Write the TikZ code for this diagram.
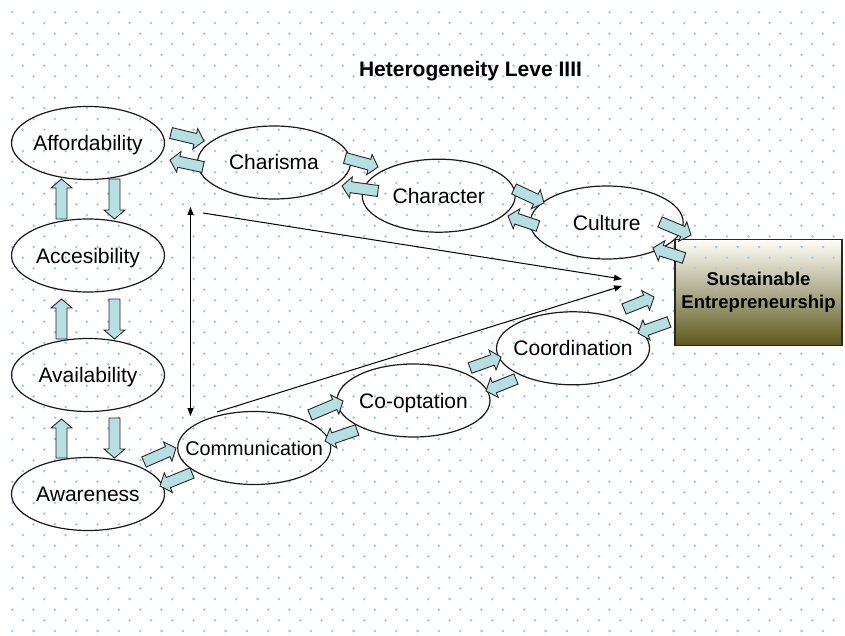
\documentclass[tikz,border=0pt]{standalone}
\usepackage{fontspec}
\setmainfont{Liberation Sans}
\usetikzlibrary{shapes.geometric,calc,arrows.meta}

\definecolor{dotblue}{RGB}{165,195,232}
\definecolor{arrowfill}{RGB}{182,223,228}
\definecolor{boxtop}{RGB}{255,255,250}
\definecolor{boxmid}{RGB}{180,174,128}
\definecolor{boxbot}{RGB}{92,88,28}

% dimensions of the fat double-outline arrows
\newcommand\shafthalf{5.5pt}
\newcommand\headhalf{10.5pt}
\newcommand\headlen{9pt}

% fat arrow from coordinate #1 (tail centre) to coordinate #2 (tip)
\newcommand\blockarrow[2]{%
  \draw[barrow] let \p1=(#1), \p2=(#2),
    \n1={atan2(\y2-\y1,\x2-\x1)}, \n2={veclen(\x2-\x1,\y2-\y1)} in
    (\p1) ++(\n1+90:\shafthalf) -- ++(\n1:\n2-\headlen)
    -- ++(\n1+90:\headhalf-\shafthalf) -- (\p2)
    -- ($(\p2)+(\n1+180:\headlen)+(\n1-90:\headhalf)$)
    -- ++(\n1+90:\headhalf-\shafthalf) -- ++(\n1+180:\n2-\headlen) -- cycle;}

% label of zero width, so every ellipse keeps the same size
\newcommand\ellabel[1]{\makebox[0pt]{#1}}

\begin{document}
\begin{tikzpicture}[x=1pt,y=-1pt,
  ellnode/.style={draw=black!90, ellipse, line width=1.2pt, minimum width=153pt,
    minimum height=73pt, inner sep=0pt, font=\fontsize{21}{25}\selectfont,
    text height=15pt, text depth=0pt},
  barrow/.style={draw=black!85, line width=0.9pt, fill=arrowfill, line join=miter},
  thinline/.style={line width=1pt, draw=black, >={Triangle[length=8pt,width=6pt]}},
]
\useasboundingbox (0,0) rectangle (845,636);
\fill[white] (0,0) rectangle (845,636);

% staggered dot grid
\foreach \j in {0,...,58}{
  \pgfmathsetmacro\rowy{12.3+10.667*\j}
  \pgfmathsetmacro\rowx{12.3+10.667*mod(\j,2)}
  \foreach \i in {0,...,38}
    \fill[dotblue] (\rowx+21.333*\i,\rowy) circle (1.4pt);
}

% target box
\node[draw=black!85, line width=1.2pt, minimum width=167pt, minimum height=106pt,
  inner sep=0pt, top color=boxtop, middle color=boxmid, bottom color=boxbot]
  (se) at (758.5,292.3) {};
\begin{scope}
  \clip ($(se.south west)+(2,-2)$) rectangle ($(se.north east)+(-2,2)$);
  \foreach \j in {22,...,27}{
    \pgfmathsetmacro\rowy{12.3+10.667*\j}
    \pgfmathsetmacro\rowx{12.3+10.667*mod(\j,2)}
    \pgfmathsetmacro\dotop{max(0,min(1,(300-\rowy)/55))}
    \foreach \i in {30,...,38}
      \fill[dotblue, opacity=\dotop] (\rowx+21.333*\i,\rowy) circle (1.4pt);
  }
\end{scope}
\node[font=\bfseries\fontsize{18.5}{23.3}\selectfont, align=center] (setext) at (se)
  {Sustainable\\Entrepreneurship};

% title
\node[font=\bfseries\fontsize{21}{25}\selectfont, anchor=base] (title) at (470.5,76.7)
  {Heterogeneity Leve IIII};

% ellipses
\node[ellnode] (aff) at (88,143)    {\ellabel{Affordability}};
\node[ellnode] (acc) at (88,255.5)  {\ellabel{Accesibility}};
\node[ellnode] (ava) at (88,375)    {\ellabel{Availability}};
\node[ellnode] (awa) at (88,494)    {\ellabel{Awareness}};
\node[ellnode] (cha) at (274,162.5) {\ellabel{Charisma}};
\node[ellnode] (chr) at (438.7,195.7) {\ellabel{Character}};
\node[ellnode] (cul) at (606.7,222.5) {\ellabel{Culture}};
\node[ellnode] (coo) at (573,348.3) {\ellabel{Coordination}};
\node[ellnode] (cop) at (413.5,400.5) {\ellabel{Co-optation}};
\node[ellnode, font=\fontsize{19.8}{24}\selectfont] (com) at (254.2,448)
  {\ellabel{Communication}};

% thin connectors
\coordinate (vt) at (190.5,207);
\coordinate (vb) at (190.5,416);
\coordinate (l1s) at (203,213);
\coordinate (tip1) at (622,279);
\coordinate (l2s) at (217,412);
\coordinate (tip2) at (622,286);
\draw[thinline, <->] (vt) -- (vb);
\draw[thinline, ->] (l1s) -- (tip1);
\draw[thinline, ->] (l2s) -- (tip2);

% fat arrow end points
\foreach \nm/\x/\y in {
  accaff-t/61.5/219, accaff-h/61.5/179,
  affacc-t/114.5/179, affacc-h/114.5/219,
  avaacc-t/61.5/339, avaacc-h/61.5/299,
  accava-t/114.5/299, accava-h/114.5/339,
  awaava-t/61.5/458, awaava-h/61.5/419,
  avaawa-t/114.5/418, avaawa-h/114.5/458,
  affcha-t/171/133, affcha-h/204/141,
  chaaff-t/203/167, chaaff-h/170/160,
  chachr-t/345/158, chachr-h/378/167,
  chrcha-t/378/191, chrcha-h/342/186,
  chrcul-t/514/189, chrcul-h/544/203,
  culchr-t/538/226, culchr-h/508/216,
  culse-t/660/222, culse-h/691/235,
  secul-t/684/258, secul-h/653/248,
  coose-t/624/309, coose-h/654/297,
  secoo-t/669/322, secoo-h/638/333,
  copcoo-t/470/368, copcoo-h/501/357,
  coocop-t/516/379, coocop-h/486/391,
  comcop-t/310/415, comcop-h/343/401,
  copcom-t/357/430, copcom-h/325/441,
  awacom-t/144/462, awacom-h/176/448,
  comawa-t/192/473, comawa-h/160/486}
  \coordinate (\nm) at (\x,\y);

\foreach \ar in {accaff,affacc,avaacc,accava,awaava,avaawa,
  affcha,chaaff,chachr,chrcha,chrcul,culchr,culse,secul,
  coose,secoo,copcoo,coocop,comcop,copcom,awacom,comawa}{
  \edef\tailname{\ar-t}\edef\tipname{\ar-h}%
  \blockarrow{\tailname}{\tipname}}
\end{tikzpicture}
\end{document}
